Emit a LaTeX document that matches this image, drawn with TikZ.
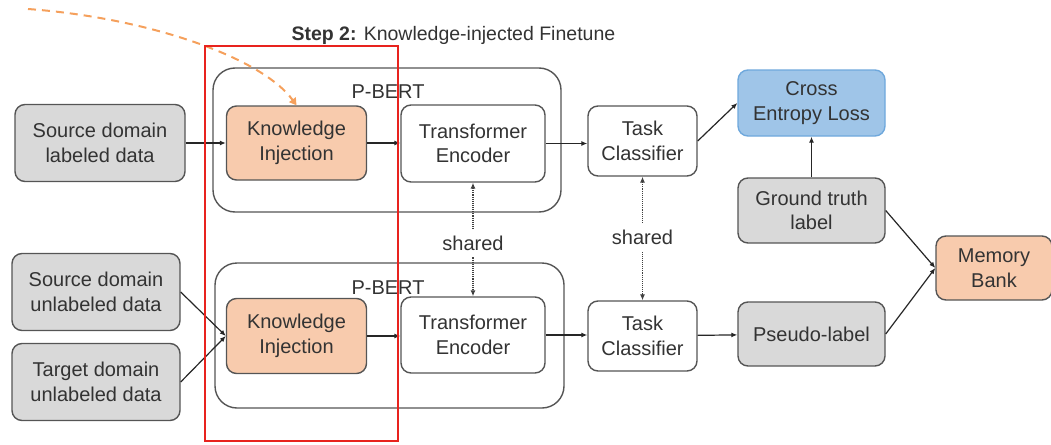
\documentclass[tikz,border=0pt]{standalone}
\usepackage{fontspec}
\setmainfont{Liberation Sans}
\usetikzlibrary{arrows.meta}
\definecolor{txt}{HTML}{333333}
\definecolor{edge}{HTML}{555555}
\definecolor{grayfill}{HTML}{D9D9D9}
\definecolor{peach}{HTML}{F8CBAD}
\definecolor{skyfill}{HTML}{9FC5E8}
\definecolor{skyedge}{HTML}{6FA8DC}
\definecolor{dashorange}{HTML}{F5A05C}
\definecolor{redframe}{HTML}{E8231E}
\tikzset{
  base/.style={draw=edge, line width=1.4pt, rounded corners=10pt, align=center,
    text=txt, font=\fontsize{20}{24.5}\selectfont, inner sep=0pt},
  databox/.style={base, fill=grayfill},
  kibox/.style={base, fill=peach},
  plainbox/.style={base, fill=white},
  lossbox/.style={base, fill=skyfill, draw=skyedge},
  container/.style={draw=edge, line width=1.4pt, rounded corners=22pt},
  flow/.style={draw=black!85, line width=1.2pt, -{Latex[length=6pt,width=5pt]}},
  sharedlink/.style={draw=black!75, line width=1.1pt, densely dotted,
    {Latex[length=6pt,width=5pt]}-{Latex[length=6pt,width=5pt]}},
  sharedtag/.style={fill=white, text=txt, font=\fontsize{20}{24}\selectfont,
    inner sep=7pt}
}
\begin{document}
\begin{tikzpicture}[x=1pt, y=-1pt]
\useasboundingbox (0,0) rectangle (1051,444);

% title
\node[anchor=west, text=txt, font=\fontsize{19.5}{23}\selectfont] (title) at (288,35)
  {\textbf{Step 2:} Knowledge-injected Finetune};

% the two P-BERT encoders
\draw[container] (213,68) rectangle (561,212);
\draw[container] (215,263) rectangle (564,408);
\node[text=txt, font=\fontsize{20}{24}\selectfont] (pb1) at (388,92) {P-BERT};
\node[text=txt, font=\fontsize{20}{24}\selectfont] (pb2) at (388,288) {P-BERT};

% inputs
\node[databox, minimum width=170pt, minimum height=77pt] (srcl) at (100,143) {Source domain\\labeled data};
\node[databox, minimum width=168pt, minimum height=77pt] (srcu) at (96,292) {Source domain\\unlabeled data};
\node[databox, minimum width=168pt, minimum height=77pt] (tgtu) at (96,382) {Target domain\\unlabeled data};

% upper branch
\node[kibox, minimum width=140pt, minimum height=74pt] (ki1) at (296.5,143) {Knowledge\\Injection};
\node[plainbox, minimum width=144pt, minimum height=77pt] (te1) at (473,143.5) {Transformer\\Encoder};
\node[plainbox, minimum width=109pt, minimum height=70pt] (tc1) at (642.5,141) {Task\\Classifier};
\node[lossbox, minimum width=147pt, minimum height=66pt] (cel) at (811.5,103) {Cross\\Entropy Loss};
\node[databox, minimum width=147pt, minimum height=65pt] (gt) at (811.5,210.5) {Ground truth\\label};

% lower branch
\node[kibox, minimum width=140pt, minimum height=75pt] (ki2) at (296.5,336) {Knowledge\\Injection};
\node[plainbox, minimum width=144pt, minimum height=76pt] (te2) at (473,335) {Transformer\\Encoder};
\node[plainbox, minimum width=109pt, minimum height=70pt] (tc2) at (642.5,336) {Task\\Classifier};
\node[databox, minimum width=147pt, minimum height=64pt] (pl) at (811.5,334) {Pseudo-label};
\node[kibox, minimum width=116pt, minimum height=64pt] (mb) at (994,268) {Memory\\Bank};

% connectors
\draw[flow] (srcl) -- (ki1);
\draw[flow] (ki1) -- (te1.west |- ki1.east);
\draw[flow] (te1) -- (tc1.west |- te1.east);
\draw[flow] (tc1.east) -- (cel.west);
\draw[flow] (gt) -- (cel);
\draw[flow] (gt.east) -- (mb.west);
\draw[flow] (pl.east) -- (mb.west);
\draw[flow] (srcu.east) -- (ki2.west);
\draw[flow] (tgtu.east) -- (ki2.west);
\draw[flow] (ki2) -- (te2.west |- ki2.east);
\draw[flow] (te2) -- (tc2.west |- te2.east);
\draw[flow] (tc2) -- (pl);

% shared parameters
\draw[sharedlink] (te1.south) -- (te2.north) node[sharedtag, pos=0.53] (sh1) {shared};
\draw[sharedlink] (tc1.south) -- (tc2.north) node[sharedtag, pos=0.49] (sh2) {shared};

% knowledge fed in from step 1
\coordinate (feed) at (28,9);
\draw[dashorange, line width=2pt, dash pattern=on 8pt off 6pt,
  -{Triangle[length=7pt,width=8pt]}]
  (feed) .. controls (150,18) and (262,58) .. (ki1.north);

% highlighted module
\draw[redframe, line width=1.8pt] (205,46) rectangle (398,441);
\end{tikzpicture}
\end{document}
